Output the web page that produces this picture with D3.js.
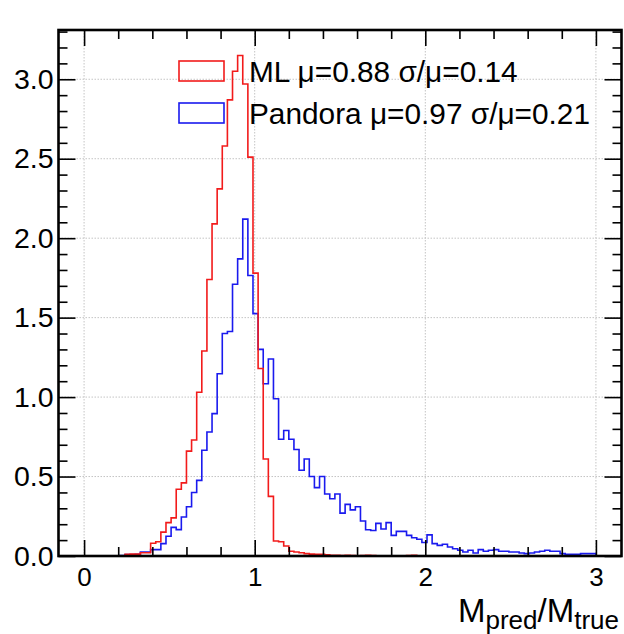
<!DOCTYPE html>
<html>
<head>
<meta charset="utf-8">
<script src="https://cdn.jsdelivr.net/npm/d3@7"></script>
<style>
  body { margin: 0; background: #fff; }
  text { font-family: "Liberation Sans", Arial, sans-serif; fill: #000; }
</style>
</head>
<body>
<svg width="624" height="634"></svg>
<script>
// histogram binning: 100 bins over [0, 3]
const histMin = 0, histMax = 3, nBins = 100;

const mlValues = [
  0, 0, 0, 0, 0, 0, 0, 0, 0.01, 0.012,
  0.012, 0.02, 0.02, 0.08, 0.09, 0.15, 0.21, 0.24, 0.42, 0.46,
  0.66, 0.73, 1.03, 1.29, 1.74, 2.09, 2.31, 2.58, 2.87, 3.05,
  3.15, 2.97, 2.51, 1.78, 1.18, 0.61, 0.375, 0.094, 0.09, 0.063,
  0.03, 0.025, 0.02, 0.015, 0.012, 0.01, 0.01, 0.008, 0.005, 0.004,
  0.003, 0.004, 0.003, 0.002, 0.003, 0.004, 0.003, 0, 0.002, 0,
  0, 0.002, 0, 0.003, 0.004, 0, 0, 0.002, 0, 0,
  0, 0, 0, 0, 0.002, 0, 0, 0, 0, 0,
  0, 0, 0, 0, 0, 0, 0, 0, 0, 0,
  0, 0, 0, 0, 0, 0, 0, 0, 0, 0
];

const pandoraValues = [
  0, 0, 0, 0, 0, 0, 0, 0.003, 0.009, 0.009,
  0.01, 0.025, 0.025, 0.04, 0.04, 0.078, 0.124, 0.18, 0.166, 0.245,
  0.31, 0.40, 0.476, 0.665, 0.78, 0.896, 1.147, 1.40, 1.413, 1.71,
  1.87, 2.12, 1.765, 1.525, 1.30, 1.084, 1.24, 0.99, 0.735, 0.79,
  0.735, 0.67, 0.54, 0.61, 0.50, 0.43, 0.50, 0.39, 0.36, 0.39,
  0.27, 0.325, 0.29, 0.31, 0.22, 0.165, 0.16, 0.205, 0.17, 0.21,
  0.13, 0.155, 0.155, 0.13, 0.115, 0.105, 0.085, 0.133, 0.078, 0.067,
  0.074, 0.057, 0.046, 0.036, 0.025, 0.036, 0.019, 0.04, 0.03, 0.036,
  0.04, 0.03, 0.03, 0.025, 0.025, 0.019, 0.015, 0.019, 0.025, 0.03,
  0.036, 0.03, 0.03, 0.015, 0.011, 0.011, 0.011, 0.015, 0.015, 0.015
];

const seriesNames = ["ML μ=0.88 σ/μ=0.14", "Pandora μ=0.97 σ/μ=0.21"];
const seriesColors = ["#f21b1b", "#1a1aee"];
const xTickValues = [0, 1, 2, 3];
const yTickValues = [0, 0.5, 1.0, 1.5, 2.0, 2.5, 3.0];

const svg = d3.select("svg");
const frame = {left: 58.5, right: 621.5, top: 30, bottom: 556};

const x = d3.scaleLinear().domain([-0.15, 3.15]).range([frame.left, frame.right]);
const y = d3.scaleLinear().domain([0, 3.31]).range([frame.bottom, frame.top]);

const xMinor = d3.range(0, 3.01, 0.2).filter(v => Math.abs(v - Math.round(v)) > 1e-6);
const yMinor = d3.range(0, 3.31, 0.1).filter(v => Math.abs(v * 2 - Math.round(v * 2)) > 1e-6);

// grid
const grid = svg.append("g")
  .attr("stroke", "#c4c4c4")
  .attr("stroke-width", 1)
  .attr("stroke-dasharray", "1.5,1.5");
grid.selectAll(".gx").data(xTickValues).enter().append("line")
  .attr("x1", d => x(d)).attr("x2", d => x(d))
  .attr("y1", frame.top).attr("y2", frame.bottom);
grid.selectAll(".gy").data(yTickValues.filter(d => d > 0)).enter().append("line")
  .attr("x1", frame.left).attr("x2", frame.right)
  .attr("y1", d => y(d)).attr("y2", d => y(d));

// histograms
const binW = (histMax - histMin) / nBins;
function stepPoints(values) {
  const pts = [[histMin, 0]];
  values.forEach((v, i) => {
    pts.push([histMin + i * binW, v]);
    pts.push([histMin + (i + 1) * binW, v]);
  });
  pts.push([histMax, 0]);
  return pts;
}
const line = d3.line().x(d => x(d[0])).y(d => y(d[1]));

[pandoraValues, mlValues].forEach((vals, k) => {
  svg.append("path")
    .attr("d", line(stepPoints(vals)))
    .attr("fill", "none")
    .attr("stroke", k === 0 ? seriesColors[1] : seriesColors[0])
    .attr("stroke-width", 1.6);
});

// axes (ticks inside on all four sides)
function styleAxis(g) {
  g.select(".domain").remove();
  g.selectAll("line").attr("stroke", "#000").attr("stroke-width", 1.6);
}

svg.append("g").attr("transform", `translate(0,${frame.bottom})`)
  .call(d3.axisBottom(x).tickValues(xMinor).tickSize(-9).tickFormat(""))
  .call(styleAxis);
const xAxisG = svg.append("g").attr("transform", `translate(0,${frame.bottom})`)
  .call(d3.axisBottom(x).tickValues(xTickValues).tickSize(-16).tickPadding(12).tickFormat(d3.format("d")))
  .call(styleAxis);
xAxisG.selectAll("text").attr("font-size", 26).attr("font-family", "Liberation Sans, Arial, sans-serif");

svg.append("g").attr("transform", `translate(0,${frame.top})`)
  .call(d3.axisTop(x).tickValues(xMinor).tickSize(-9).tickFormat(""))
  .call(styleAxis);
svg.append("g").attr("transform", `translate(0,${frame.top})`)
  .call(d3.axisTop(x).tickValues(xTickValues).tickSize(-16).tickFormat(""))
  .call(styleAxis);

svg.append("g").attr("transform", `translate(${frame.left},0)`)
  .call(d3.axisLeft(y).tickValues(yMinor).tickSize(-9).tickFormat(""))
  .call(styleAxis);
const yAxisG = svg.append("g").attr("transform", `translate(${frame.left},0)`)
  .call(d3.axisLeft(y).tickValues(yTickValues).tickSize(-17).tickPadding(5).tickFormat(d3.format(".1f")))
  .call(styleAxis);
yAxisG.selectAll("text").attr("font-size", 28.5).attr("font-family", "Liberation Sans, Arial, sans-serif");

svg.append("g").attr("transform", `translate(${frame.right},0)`)
  .call(d3.axisRight(y).tickValues(yMinor).tickSize(-9).tickFormat(""))
  .call(styleAxis);
svg.append("g").attr("transform", `translate(${frame.right},0)`)
  .call(d3.axisRight(y).tickValues(yTickValues).tickSize(-17).tickFormat(""))
  .call(styleAxis);

// frame
svg.append("rect")
  .attr("x", frame.left).attr("y", frame.top)
  .attr("width", frame.right - frame.left).attr("height", frame.bottom - frame.top)
  .attr("fill", "none").attr("stroke", "#000").attr("stroke-width", 2.6);

// legend
const legend = svg.append("g");
seriesNames.forEach((name, i) => {
  const cy = 71 + i * 42;
  legend.append("rect")
    .attr("x", 179).attr("y", cy - 10).attr("width", 45).attr("height", 20)
    .attr("fill", "none").attr("stroke", seriesColors[i]).attr("stroke-width", 1.6);
  legend.append("text")
    .attr("x", 249).attr("y", cy + 10.5)
    .attr("font-size", 29.8)
    .text(name);
});

// x title
const title = svg.append("text")
  .attr("x", 619).attr("y", 622)
  .attr("text-anchor", "end")
  .attr("font-size", 33);
title.append("tspan").text("M");
title.append("tspan").attr("font-size", 26).attr("dy", 7).text("pred");
title.append("tspan").attr("dy", -7).text("/M");
title.append("tspan").attr("font-size", 26).attr("dy", 7).text("true");
</script>
</body>
</html>
